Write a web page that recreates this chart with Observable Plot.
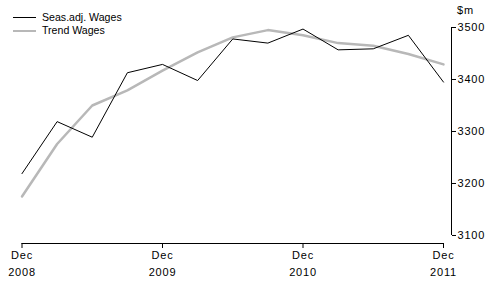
<!DOCTYPE html>
<html><head><meta charset="utf-8">
<script src="https://cdn.jsdelivr.net/npm/d3@7"></script>
<script src="https://cdn.jsdelivr.net/npm/@observablehq/plot@0.6"></script>
<style>
body{margin:0;background:#fff;font-family:"Liberation Sans",Arial,sans-serif;}
#wrap{position:relative;width:496px;height:284px;overflow:hidden;}
#wrap svg{position:absolute;left:0;top:0;}
#wrap svg text{letter-spacing:0.8px;}
.leg{position:absolute;left:13px;font-size:10.6px;line-height:13px;color:#000;display:flex;align-items:center;}
.leg span.sw{display:inline-block;width:23px;margin-right:6px;}
#unit{position:absolute;left:457px;top:4px;font-size:11px;letter-spacing:0.8px;}
</style></head><body>
<div id="wrap"></div>
<script>
const quarters = ["Dec 2008","Mar 2009","Jun 2009","Sep 2009","Dec 2009","Mar 2010","Jun 2010","Sep 2010","Dec 2010","Mar 2011","Jun 2011","Sep 2011","Dec 2011"];
const seasAdj = [3219, 3319, 3289, 3413, 3429, 3398, 3478, 3470, 3497, 3457, 3459, 3485, 3395];
const trend   = [3175, 3276, 3350, 3379, 3417, 3452, 3481, 3495, 3485, 3470, 3465, 3449, 3429];
const yTicks = [3100, 3200, 3300, 3400, 3500];
const xTickIdx = [0, 4, 8, 12];
const xTickLabels = ["Dec\n2008", "Dec\n2009", "Dec\n2010", "Dec\n2011"];
const seriesNames = ["Seas.adj. Wages", "Trend Wages"];
const seriesColors = ["#000000", "#b8b8b8"];

const rows = (vals) => vals.map((v, i) => ({i, q: quarters[i], v}));

const chart = Plot.plot({
  width: 496, height: 284,
  marginLeft: 21.5, marginRight: 45, marginTop: 27, marginBottom: 41,
  style: {fontFamily: '"Liberation Sans", Arial, sans-serif', fontSize: "11px", background: "#fff", color: "#000"},
  x: {domain: [0, quarters.length - 1], insetRight: 8, axis: null, label: null},
  y: {domain: [3084.6, 3500], axis: null, label: null},
  marks: [
    Plot.ruleY([3084.6], {x1: 0, x2: quarters.length - 1, stroke: "#000", strokeWidth: 1}),
    Plot.ruleX([quarters.length - 1], {y1: yTicks[0], y2: yTicks[yTicks.length - 1], dx: 8, stroke: "#000"}),
    Plot.axisY(yTicks, {anchor: "right", label: null, tickSize: 4, tickPadding: 2, tickFormat: d => String(d), fontSize: 11, stroke: "#000"}),
    Plot.axisX(xTickIdx, {anchor: "bottom", label: null, tickSize: 5, tickPadding: -1, tickFormat: i => xTickLabels[xTickIdx.indexOf(i)], lineHeight: 1.5, fontSize: 11}),
    Plot.line(rows(trend), {x: "i", y: "v", stroke: seriesColors[1], strokeWidth: 2.5}),
    Plot.line(rows(seasAdj), {x: "i", y: "v", stroke: seriesColors[0], strokeWidth: 1})
  ]
});

const wrap = document.getElementById("wrap");
wrap.appendChild(chart);
seriesNames.forEach((n, k) => {
  const d = document.createElement("div");
  d.className = "leg";
  d.style.top = (11 + k * 13) + "px";
  d.innerHTML = `<span class="sw" style="border-top:${k ? 2.5 : 1}px solid ${seriesColors[k]}"></span>${n}`;
  wrap.appendChild(d);
});
const u = document.createElement("div");
u.id = "unit"; u.textContent = "$m";
wrap.appendChild(u);
</script>
</body></html>
